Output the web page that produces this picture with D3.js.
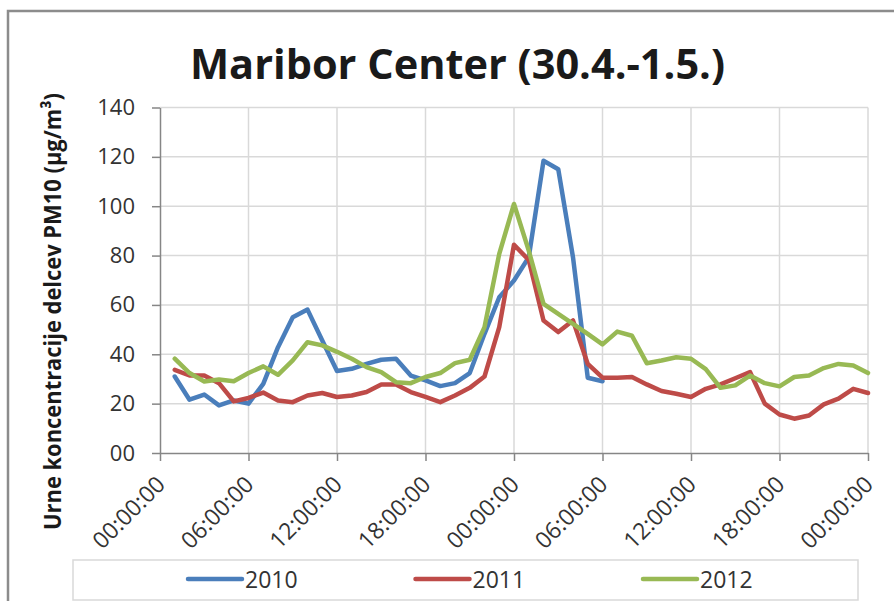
<!DOCTYPE html>
<html>
<head>
<meta charset="utf-8">
<script src="https://cdn.jsdelivr.net/npm/d3@7"></script>
<style>
  body { margin: 0; background: #fff; }
  svg { display: block; }
  text { font-family: "Open Sans", "DejaVu Sans", sans-serif; fill: #262626; }
</style>
</head>
<body>
<svg id="chart" width="894" height="601"></svg>
<script>
// Hourly PM10 concentrations, hour 1 .. hour 48 (two days from midnight)
const seriesNames = ["2010", "2011", "2012"];
const values2010 = [31.0, 21.6, 23.7, 19.3, 21.3, 20.0, 28.0, 42.9, 55.0, 58.1,
                    45.6, 33.2, 34.1, 36.1, 37.8, 38.2, 31.4, 29.4, 27.1, 28.3,
                    32.4, 48.3, 63.1, 69.9, 79.3, 118.4, 115.0, 79.3, 30.5, 29.1];
const values2011 = [33.7, 31.4, 31.4, 28.3, 20.9, 22.3, 24.5, 21.3, 20.6, 23.3,
                    24.3, 22.7, 23.3, 24.7, 27.8, 27.8, 24.7, 22.7, 20.6, 23.3,
                    26.4, 31.0, 51.0, 84.4, 78.2, 53.7, 49.0, 53.7, 36.1, 30.5,
                    30.5, 30.8, 27.8, 25.1, 24.0, 22.7, 26.0, 27.8, 30.3, 32.8,
                    20.0, 15.6, 13.9, 15.2, 19.7, 22.0, 26.0, 24.3];
const values2012 = [38.2, 32.4, 29.0, 29.8, 29.1, 32.4, 35.1, 31.7, 37.5, 44.9,
                    43.6, 41.0, 38.2, 34.8, 32.8, 28.7, 28.3, 30.8, 32.4, 36.4,
                    37.8, 51.0, 80.7, 100.9, 82.0, 60.4, 56.4, 52.3, 48.3, 44.0,
                    49.2, 47.5, 36.4, 37.5, 38.8, 38.2, 34.0, 26.4, 27.4, 31.4,
                    28.3, 27.0, 30.8, 31.4, 34.4, 36.1, 35.5, 32.4];
const xTickHours = [0, 6, 12, 18, 24, 30, 36, 42, 48];
const xTickLabels = ["00:00:00", "06:00:00", "12:00:00", "18:00:00", "00:00:00",
                     "06:00:00", "12:00:00", "18:00:00", "00:00:00"];
const yTickValues = [0, 20, 40, 60, 80, 100, 120, 140];
const yTickLabels = ["00", "20", "40", "60", "80", "100", "120", "140"];
const seriesColors = ["#4A7EBB", "#BE4B48", "#98B954"];

const series = [values2010, values2011, values2012].map((vals, i) => ({
  name: seriesNames[i],
  color: seriesColors[i],
  points: vals.map((v, j) => ({ hour: j + 1, value: v }))
}));

const svg = d3.select("#chart");
const plot = { left: 160, right: 868, top: 107.5, bottom: 453 };

const x = d3.scaleLinear().domain([0, 48]).range([plot.left, plot.right]);
const y = d3.scaleLinear().domain([0, 140]).range([plot.bottom, plot.top]);

// Outer chart frame
svg.append("path")
  .attr("d", "M8,601 V11 H894")
  .attr("fill", "none")
  .attr("stroke", "#8c8c8c")
  .attr("stroke-width", 2.5);

// Title
svg.append("text")
  .attr("x", 457.5).attr("y", 79)
  .attr("text-anchor", "middle")
  .attr("font-size", 42).attr("font-weight", "bold")
  .attr("textLength", 535).attr("lengthAdjust", "spacingAndGlyphs")
  .style("fill", "#1a1a1a")
  .text("Maribor Center (30.4.-1.5.)");

// Gridlines
const grid = svg.append("g").attr("stroke", "#d9d9d9").attr("stroke-width", 1.5);
grid.selectAll("line.h").data(yTickValues.slice(1)).join("line")
  .attr("class", "h")
  .attr("x1", plot.left).attr("x2", plot.right)
  .attr("y1", d => y(d)).attr("y2", d => y(d));
grid.selectAll("line.v").data(xTickHours.slice(1)).join("line")
  .attr("class", "v")
  .attr("x1", d => x(d)).attr("x2", d => x(d))
  .attr("y1", plot.top).attr("y2", plot.bottom);

// Y axis
const yAxis = svg.append("g")
  .attr("transform", `translate(${plot.left},0)`)
  .call(d3.axisLeft(y).tickValues(yTickValues)
    .tickFormat((d, i) => yTickLabels[i])
    .tickSize(8).tickSizeOuter(0).tickPadding(17));
yAxis.select(".domain").attr("stroke", "#868686").attr("stroke-width", 1.5);
yAxis.selectAll(".tick line").attr("stroke", "#868686").attr("stroke-width", 1.5);
yAxis.selectAll(".tick text")
  .attr("font-size", 22).attr("font-family", null).style("fill", "#333");

// X axis
const xAxis = svg.append("g")
  .attr("transform", `translate(0,${plot.bottom})`)
  .call(d3.axisBottom(x).tickValues(xTickHours)
    .tickFormat((d, i) => xTickLabels[i])
    .tickSize(8).tickSizeOuter(0));
xAxis.select(".domain").attr("stroke", "#868686").attr("stroke-width", 1.5);
xAxis.selectAll(".tick line").attr("stroke", "#868686").attr("stroke-width", 1.5);
xAxis.selectAll(".tick text")
  .attr("font-size", 23).attr("font-family", null).style("fill", "#333")
  .attr("text-anchor", "end")
  .attr("x", 0).attr("y", 0).attr("dy", 0)
  .attr("transform", "translate(6,33) rotate(-45)");

// Y axis title
svg.append("text")
  .attr("transform", "translate(61,311.5) rotate(-90)")
  .attr("text-anchor", "middle")
  .attr("font-size", 24).attr("font-weight", "bold")
  .attr("textLength", 437).attr("lengthAdjust", "spacingAndGlyphs")
  .style("fill", "#1a1a1a")
  .text("Urne koncentracije delcev PM10 (µg/m³)");

// Series lines
const line = d3.line().x(d => x(d.hour)).y(d => y(d.value));
svg.append("g").selectAll("path").data(series).join("path")
  .attr("d", d => line(d.points))
  .attr("fill", "none")
  .attr("stroke", d => d.color)
  .attr("stroke-width", 4.5)
  .attr("stroke-linejoin", "round")
  .attr("stroke-linecap", "round");

// Legend
const legend = svg.append("g");
legend.append("rect")
  .attr("x", 73).attr("y", 560).attr("width", 785).attr("height", 40)
  .attr("fill", "none").attr("stroke", "#d9d9d9").attr("stroke-width", 1.5);
const items = legend.selectAll("g.item").data(series).join("g")
  .attr("class", "item")
  .attr("transform", (d, i) => `translate(${188 + i * 227.5},579)`);
items.append("line")
  .attr("x1", 0).attr("x2", 54).attr("y1", 0).attr("y2", 0)
  .attr("stroke", d => d.color).attr("stroke-width", 4.5)
  .attr("stroke-linecap", "round");
items.append("text")
  .attr("x", 57).attr("y", 8.5)
  .attr("font-size", 23).style("fill", "#333")
  .text(d => d.name);
</script>
</body>
</html>
